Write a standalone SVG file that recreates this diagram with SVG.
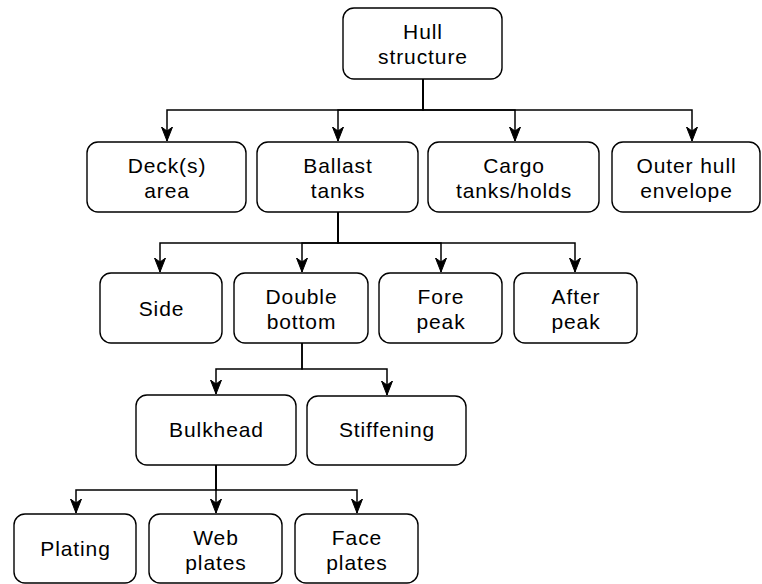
<svg xmlns="http://www.w3.org/2000/svg" width="762" height="584" viewBox="0 0 762 584">
  <defs>
    <marker id="arrow" markerUnits="userSpaceOnUse" markerWidth="16" markerHeight="14" viewBox="-14 -7 16 14" refX="0" refY="0" orient="auto">
      <path d="M0,0 L-14,-5.5 L-10,0 L-14,5.5 Z" fill="#000" stroke="#000" stroke-width="1" stroke-linejoin="miter"/>
    </marker>
  </defs>
  <style>
    .box { fill: #fff; stroke: #000; stroke-width: 1.4; }
    .lbl { font-family: "Liberation Sans", Arial, Helvetica, sans-serif; font-size: 21px; letter-spacing: 0.9px; fill: #000; text-anchor: middle; }
    .edge { fill: none; stroke: #000; stroke-width: 1.5; marker-end: url(#arrow); }
  </style>
  <rect width="762" height="584" fill="#fff"/>

  <!-- connectors (elbow edges from parent to child) -->
  <g id="connectors">
    <path class="edge" d="M423,79 V110 H167 V141"/>
    <path class="edge" d="M423,79 V110 H338 V141"/>
    <path class="edge" d="M423,79 V110 H515 V141"/>
    <path class="edge" d="M423,79 V110 H692 V141"/>
    <path class="edge" d="M338,212 V243 H160 V272"/>
    <path class="edge" d="M338,212 V243 H302 V272"/>
    <path class="edge" d="M338,212 V243 H441 V272"/>
    <path class="edge" d="M338,212 V243 H575 V272"/>
    <path class="edge" d="M302,343 V369 H216 V394"/>
    <path class="edge" d="M302,343 V369 H387 V395"/>
    <path class="edge" d="M216,465 V490 H76 V513"/>
    <path class="edge" d="M216,465 V513"/>
    <path class="edge" d="M216,465 V490 H357 V513"/>
  </g>

  <g id="hull-structure">
    <rect class="box" x="343" y="8" width="159" height="71" rx="11"/>
    <text class="lbl" x="423" y="39">Hull</text>
    <text class="lbl" x="423" y="64">structure</text>
  </g>

  <g id="decks-area">
    <rect class="box" x="87" y="142" width="159" height="70" rx="11"/>
    <text class="lbl" x="167" y="173">Deck(s)</text>
    <text class="lbl" x="167" y="198">area</text>
  </g>
  <g id="ballast-tanks">
    <rect class="box" x="257" y="142" width="161" height="70" rx="11"/>
    <text class="lbl" x="338" y="173">Ballast</text>
    <text class="lbl" x="338" y="198">tanks</text>
  </g>
  <g id="cargo-tanks">
    <rect class="box" x="428" y="142" width="171" height="70" rx="11"/>
    <text class="lbl" x="514" y="173">Cargo</text>
    <text class="lbl" x="514" y="198">tanks/holds</text>
  </g>
  <g id="outer-hull">
    <rect class="box" x="612" y="142" width="148" height="70" rx="11"/>
    <text class="lbl" x="686.5" y="173">Outer hull</text>
    <text class="lbl" x="686.5" y="198">envelope</text>
  </g>

  <g id="side">
    <rect class="box" x="100" y="273" width="122" height="70" rx="11"/>
    <text class="lbl" x="161.5" y="316">Side</text>
  </g>
  <g id="double-bottom">
    <rect class="box" x="234" y="273" width="134" height="70" rx="11"/>
    <text class="lbl" x="301.5" y="304">Double</text>
    <text class="lbl" x="301.5" y="329">bottom</text>
  </g>
  <g id="fore-peak">
    <rect class="box" x="379" y="273" width="123" height="70" rx="11"/>
    <text class="lbl" x="441" y="304">Fore</text>
    <text class="lbl" x="441" y="329">peak</text>
  </g>
  <g id="after-peak">
    <rect class="box" x="514" y="273" width="123" height="70" rx="11"/>
    <text class="lbl" x="576" y="304">After</text>
    <text class="lbl" x="576" y="329">peak</text>
  </g>

  <g id="bulkhead">
    <rect class="box" x="136" y="395" width="160" height="70" rx="11"/>
    <text class="lbl" x="216.5" y="437">Bulkhead</text>
  </g>
  <g id="stiffening">
    <rect class="box" x="307" y="396" width="159" height="69" rx="11"/>
    <text class="lbl" x="387" y="437">Stiffening</text>
  </g>

  <g id="plating">
    <rect class="box" x="14" y="514" width="122" height="69" rx="11"/>
    <text class="lbl" x="75.5" y="556">Plating</text>
  </g>
  <g id="web-plates">
    <rect class="box" x="149" y="514" width="133" height="69" rx="11"/>
    <text class="lbl" x="216" y="545">Web</text>
    <text class="lbl" x="216" y="570">plates</text>
  </g>
  <g id="face-plates">
    <rect class="box" x="295" y="514" width="123" height="69" rx="11"/>
    <text class="lbl" x="357" y="545">Face</text>
    <text class="lbl" x="357" y="570">plates</text>
  </g>
</svg>
